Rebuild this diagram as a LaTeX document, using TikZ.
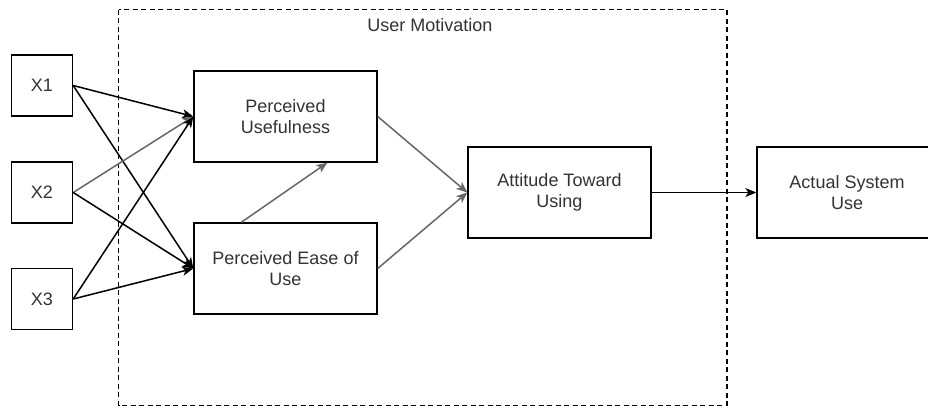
\documentclass[tikz,border=0pt]{standalone}
\usepackage{fontspec}
\setmainfont{Liberation Sans}
\usetikzlibrary{arrows.meta,calc}

\definecolor{txt}{HTML}{333333}
\definecolor{lightlink}{HTML}{666666}

\tikzset{
  box/.style={draw=black, line width=1.4pt, fill=white, inner sep=0pt,
    align=center, text=txt, font=\fontsize{18}{20.5}\selectfont},
  xbox/.style={box, minimum width=61pt, minimum height=61pt},
  bigbox/.style={box, minimum width=183pt, minimum height=91pt},
  link/.style={line width=1.5pt, draw=black,
    -{Stealth[length=11pt,width=9pt,inset=3pt]}},
  softlink/.style={link, draw=lightlink},
  group/.style={draw=black, line width=1.2pt, dash pattern=on 5pt off 3.5pt}
}

\begin{document}
\begin{tikzpicture}[x=1pt,y=-1pt]
  \useasboundingbox (0,0) rectangle (928,405);
  \clip (0,0) rectangle (928,405);

  % group frame (its lower edge runs along the page border)
  \draw[group] (118.5,9.5) rectangle (727,405.2);
  \node[text=txt, font=\fontsize{18}{20.5}\selectfont] (title) at (430,25) {User Motivation};

  % inputs
  \node[xbox] (x1) at (42,85.5) {X1};
  \node[xbox] (x2) at (42,192.5) {X2};
  \node[xbox] (x3) at (42,299) {X3};

  % constructs
  \node[bigbox] (pu)  at (285.5,116.5) {Perceived\\Usefulness};
  \node[bigbox] (peu) at (285.5,268.5) {Perceived Ease of\\Use};
  \node[bigbox] (atu) at (559.5,192.5) {Attitude Toward\\Using};
  \node[box, minimum width=180pt, minimum height=91pt] (asu) at (847,192.5) {Actual System\\Use};

  % inputs to perceptions
  \draw[link] (x1.east) -- (pu.west);
  \draw[link] (x1.east) -- (peu.west);
  \draw[softlink] (x2.east) -- (pu.west);
  \draw[link] (x2.east) -- (peu.west);
  \draw[link] (x3.east) -- (pu.west);
  \draw[link] (x3.east) -- (peu.west);

  % perceptions to attitude
  \draw[softlink] ($(peu.north west)+(48,0)$) -- ($(pu.south west)+(134,0)$);
  \draw[softlink] (pu.east) -- (atu.west);
  \draw[softlink] (peu.east) -- (atu.west);

  % attitude to use
  \draw[link] (atu.east) -- (asu.west);
\end{tikzpicture}
\end{document}
